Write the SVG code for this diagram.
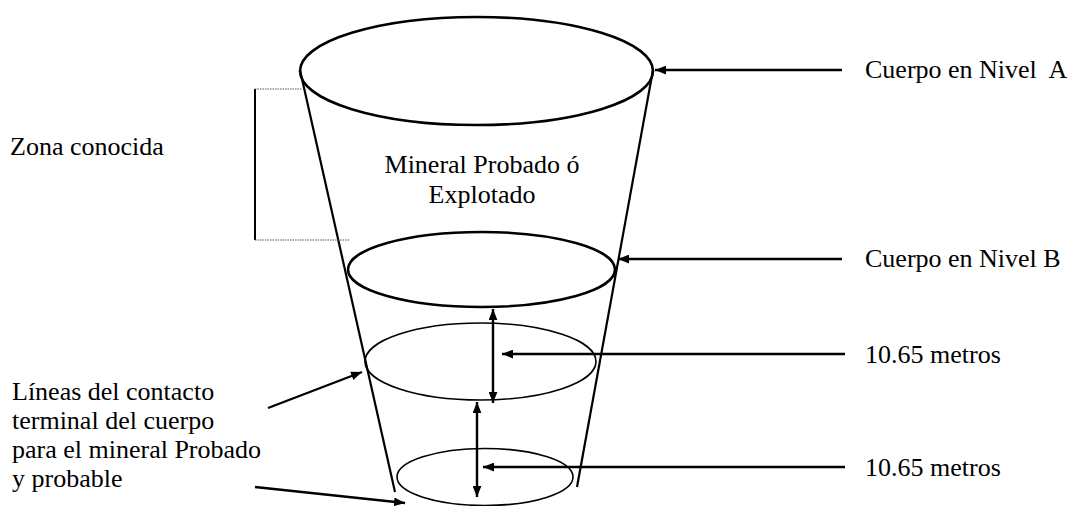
<svg xmlns="http://www.w3.org/2000/svg" width="1079" height="506" viewBox="0 0 1079 506">
<style>
.thick{fill:none;stroke:#000;stroke-width:2.6}
.thin{fill:none;stroke:#000;stroke-width:1.6}
.cone{fill:none;stroke:#000;stroke-width:2.2}
.arr{fill:none;stroke:#000;stroke-width:2.4}
.dot{fill:none;stroke:#555;stroke-width:1;stroke-dasharray:1.5 1}
</style>
<defs>
<marker id="ah" viewBox="0 0 10 8" refX="10" refY="4" markerWidth="11" markerHeight="9" markerUnits="userSpaceOnUse" orient="auto-start-reverse">
<path d="M0,0 L10,4 L0,8 Z" fill="#000"/>
</marker>
</defs>
<g id="cone">
<line class="cone" x1="300" y1="70" x2="395" y2="492"/>
<line class="cone" x1="653" y1="70" x2="577" y2="487"/>
</g>
<g id="nivelA"><ellipse class="thick" cx="476.5" cy="71" rx="176.5" ry="54"/></g>
<g id="nivelB"><ellipse class="thick" cx="481.5" cy="269.5" rx="133.5" ry="37.5"/></g>
<g id="nivelC"><ellipse class="thin" cx="480.5" cy="361.5" rx="115.5" ry="38.5"/></g>
<g id="nivelD"><ellipse class="thin" cx="485" cy="477" rx="88" ry="28.5"/></g>
<g font-family="'Liberation Serif', 'DejaVu Serif', serif" font-size="26" fill="#000">
<g id="zona">
<line x1="255" y1="89" x2="255" y2="240" stroke="#000" stroke-width="2"/>
<line class="dot" x1="255" y1="89" x2="302" y2="89"/>
<line class="dot" x1="255" y1="240" x2="350" y2="240"/>
<text x="10" y="155">Zona conocida</text>
</g>
<g id="mineral">
<text x="482" y="173" text-anchor="middle">Mineral Probado ó</text>
<text x="482" y="203" text-anchor="middle">Explotado</text>
</g>
<g id="labels">
<text x="865" y="78" xml:space="preserve">Cuerpo en Nivel  A</text>
<text x="865" y="267">Cuerpo en Nivel B</text>
<text x="865" y="363">10.65 metros</text>
<text x="865" y="476">10.65 metros</text>
<text x="12" y="400">Líneas del contacto</text>
<text x="12" y="429">terminal del cuerpo</text>
<text x="12" y="458">para el mineral Probado</text>
<text x="12" y="487">y probable</text>
</g>
</g>
<g id="connectors">
<line class="arr" x1="842" y1="70" x2="655" y2="70" marker-end="url(#ah)"/>
<line class="arr" x1="842" y1="259" x2="618" y2="259" marker-end="url(#ah)"/>
<line class="arr" x1="845" y1="354" x2="502" y2="354" marker-end="url(#ah)"/>
<line class="arr" x1="845" y1="467" x2="483" y2="467" marker-end="url(#ah)"/>
<line class="arr" x1="493" y1="309" x2="493" y2="403" marker-start="url(#ah)" marker-end="url(#ah)"/>
<line class="arr" x1="477" y1="402" x2="477" y2="497" marker-start="url(#ah)" marker-end="url(#ah)"/>
<line class="arr" x1="268" y1="408" x2="362" y2="372" marker-end="url(#ah)"/>
<line class="arr" x1="255" y1="487" x2="405" y2="503" marker-end="url(#ah)"/>
</g>
</svg>
